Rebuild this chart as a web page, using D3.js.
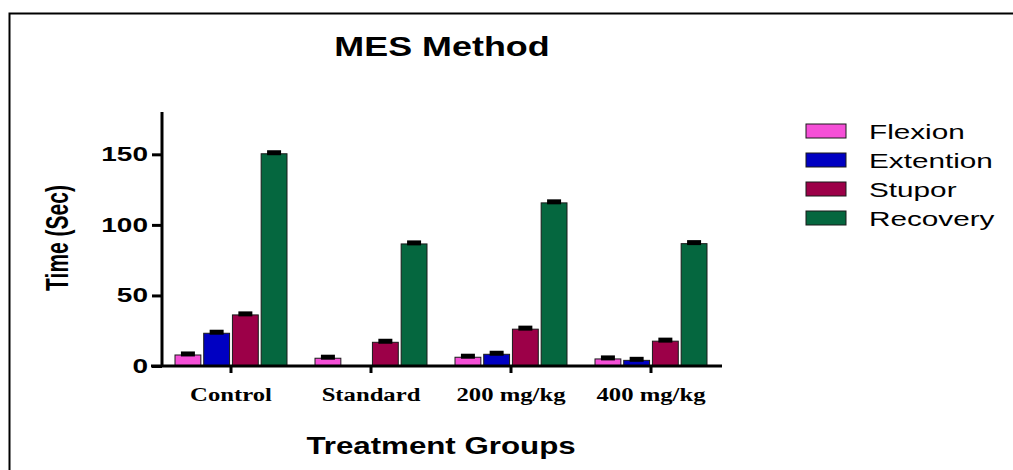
<!DOCTYPE html>
<html>
<head>
<meta charset="utf-8">
<script src="https://cdn.jsdelivr.net/npm/d3@7"></script>
<style>
  html, body { margin: 0; padding: 0; background: #fff; }
  svg { display: block; }
</style>
</head>
<body>
<div id="chart"></div>
<script>
const groups = ["Control", "Standard", "200 mg/kg", "400 mg/kg"];
const series = ["Flexion", "Extention", "Stupor", "Recovery"];
const colors = ["#f54fd7", "#0000c2", "#9c0048", "#05673f"];

// mean time (sec) per series, one value per group
const flexion = [7.8, 5.5, 6.2, 5.0];
const extention = [23.2, 0, 8.3, 4.0];
const stupor = [36.2, 16.8, 26.1, 17.6];
const recovery = [150.4, 86.5, 115.6, 86.7];
const sem = [1.8, 1.8, 1.8, 1.8];

const yTicks = [0, 50, 100, 150];

const values = [flexion, extention, stupor, recovery];
const rows = [];
groups.forEach((g, gi) => {
  series.forEach((s, si) => {
    rows.push({ group: g, series: s, si, value: values[si][gi], err: sem[gi] });
  });
});

const width = 1013, height = 470;

const svg = d3.select("#chart").append("svg")
  .attr("width", width)
  .attr("height", height)
  .attr("viewBox", [0, 0, width, height]);

// frame (top + left only)
svg.append("path")
  .attr("d", "M9.5,470V13.5H1013")
  .attr("fill", "none")
  .attr("stroke", "#000")
  .attr("stroke-width", 2);

const x0 = d3.scaleBand().domain(groups).range([161, 721]);
const groupW = 112;
const x1 = d3.scaleBand().domain(series).range([0, groupW]).paddingInner(0.1);
const y = d3.scaleLinear().domain([0, 180]).range([366, 112]);

// stretched text helper (the source picture is widened horizontally)
function label(parent, x, y, txt, opts) {
  const g = parent.append("g").attr("transform", `translate(${x},${y})`);
  return g.append("text")
    .attr("transform", opts.transform || `scale(${opts.sx || 1},1)`)
    .attr("text-anchor", opts.anchor || "middle")
    .attr("font-family", opts.family || "'Liberation Sans', Arial, sans-serif")
    .attr("font-weight", opts.weight || "bold")
    .attr("font-size", opts.size)
    .attr("fill", "#000")
    .text(txt);
}

// bars
const bars = svg.append("g");
bars.selectAll("rect")
  .data(rows.filter(d => d.value > 0))
  .join("rect")
  .attr("x", d => x0(d.group) + x0.bandwidth() / 2 - groupW / 2 + x1(d.series))
  .attr("y", d => y(d.value))
  .attr("width", x1.bandwidth())
  .attr("height", d => y(0) - y(d.value))
  .attr("fill", d => colors[d.si])
  .attr("stroke", "#1a1a1a")
  .attr("stroke-width", 1);

// error bars (mean + SEM)
const errs = svg.append("g").attr("stroke", "#000");
const ex = d => x0(d.group) + x0.bandwidth() / 2 - groupW / 2 + x1(d.series) + x1.bandwidth() / 2;
errs.selectAll("line.v")
  .data(rows.filter(d => d.value > 0))
  .join("line")
  .attr("class", "v")
  .attr("x1", ex).attr("x2", ex)
  .attr("y1", d => y(d.value))
  .attr("y2", d => y(d.value + d.err))
  .attr("stroke-width", 3);
errs.selectAll("line.cap")
  .data(rows.filter(d => d.value > 0))
  .join("line")
  .attr("class", "cap")
  .attr("x1", d => ex(d) - 7).attr("x2", d => ex(d) + 7)
  .attr("y1", d => y(d.value + d.err) + 1.5)
  .attr("y2", d => y(d.value + d.err) + 1.5)
  .attr("stroke-width", 5);

// y axis
const yAxis = svg.append("g")
  .attr("transform", "translate(162,0)")
  .call(d3.axisLeft(y).tickValues(yTicks).tickSize(10).tickSizeOuter(0).tickFormat(""));
yAxis.selectAll("path, line").attr("stroke", "#000").attr("stroke-width", 3);
yAxis.select("path").attr("d", `M0,${y(0)}V${y(180)}`);

yTicks.forEach(t => {
  label(svg, 148, y(t) + 7, t, { anchor: "end", size: 20, sx: 1.4 });
});

// x axis
const xAxis = svg.append("g")
  .attr("transform", `translate(0,${y(0)})`)
  .call(d3.axisBottom(x0).tickSize(7).tickSizeOuter(0).tickFormat(""));
xAxis.selectAll("path, line").attr("stroke", "#000").attr("stroke-width", 3);
xAxis.select("path").attr("d", "M151,0H722");

groups.forEach(g => {
  label(svg, x0(g) + x0.bandwidth() / 2, 401, g, {
    size: 19, sx: 1.3, family: "'Liberation Serif', 'Times New Roman', serif"
  });
});

// titles
label(svg, 442, 56, "MES Method", { size: 27, sx: 1.33 });
label(svg, 441, 454, "Treatment Groups", { size: 23, sx: 1.36 });
label(svg, 68, 238, "Time (Sec)", { size: 21, transform: "rotate(-90) scale(1,1.45)" });

// legend
const legend = svg.append("g");
series.forEach((s, i) => {
  const yy = 124 + i * 29;
  legend.append("rect")
    .attr("x", 806).attr("y", yy)
    .attr("width", 40).attr("height", 14)
    .attr("fill", colors[i])
    .attr("stroke", "#1a1a1a")
    .attr("stroke-width", 1);
  label(legend, 869, yy + 14.5, s, { anchor: "start", size: 20.5, weight: "normal", sx: 1.45 });
});
</script>
</body>
</html>
